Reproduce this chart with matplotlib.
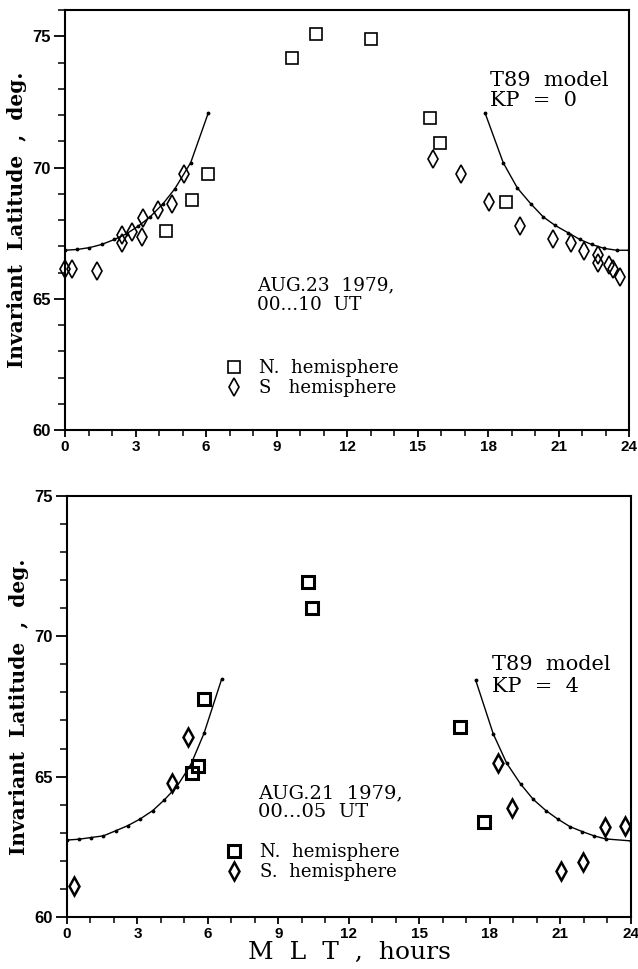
import matplotlib
matplotlib.use("Agg")
import matplotlib.pyplot as plt
from matplotlib.ticker import MultipleLocator

# ---- AUG.23 1979, KP = 0 ----
n23_mlt = [4.28, 5.42, 6.10, 9.65, 10.68, 13.00, 15.53, 15.96, 18.77]
n23_lat = [67.59, 68.76, 69.77, 74.19, 75.10, 74.91, 71.87, 70.95, 68.69]
s23_mlt = [0.00, 0.28, 1.38, 2.41, 2.41, 2.86, 3.29, 3.33, 3.97, 4.57, 5.06,
           15.67, 16.85, 18.06, 19.36, 20.78, 21.52, 22.10, 22.70, 22.70, 23.16, 23.30, 23.62]
s23_lat = [66.15, 66.15, 66.07, 67.42, 67.13, 67.55, 67.34, 68.06, 68.40, 68.60, 69.77,
           70.32, 69.77, 68.69, 67.78, 67.26, 67.11, 66.83, 66.66, 66.35, 66.28, 66.15, 65.83]
m0_left_mlt = [0.00, 0.52, 1.04, 1.56, 2.10, 2.62, 3.12, 3.62, 4.18, 4.68, 5.35, 6.10]
m0_left_lat = [66.85, 66.88, 66.95, 67.07, 67.26, 67.48, 67.77, 68.12, 68.63, 69.20, 70.19, 72.09]
m0_right_mlt = [17.87, 18.65, 19.25, 19.81, 20.35, 20.85, 21.42, 21.91, 22.41, 22.95, 23.48, 24.00]
m0_right_lat = [72.09, 70.18, 69.22, 68.63, 68.12, 67.80, 67.51, 67.26, 67.07, 66.92, 66.85, 66.85]

# ---- AUG.21 1979, KP = 4 ----
n21_mlt = [5.33, 5.56, 5.83, 10.27, 10.41, 16.72, 17.74]
n21_lat = [65.12, 65.38, 67.76, 71.95, 71.00, 66.78, 63.37]
s21_mlt = [0.30, 4.48, 5.14, 18.36, 18.92, 21.01, 21.94, 22.89, 23.74]
s21_lat = [61.10, 64.78, 66.40, 65.48, 63.89, 61.65, 61.95, 63.22, 63.25]
m4_left_mlt = [0.00, 0.51, 1.02, 1.55, 2.07, 2.58, 3.11, 3.65, 4.14, 4.67, 5.26, 5.83, 6.58]
m4_left_lat = [62.74, 62.77, 62.83, 62.89, 63.07, 63.25, 63.49, 63.79, 64.17, 64.64, 65.41, 66.54, 68.47]
m4_right_mlt = [17.39, 18.14, 18.71, 19.30, 19.84, 20.38, 20.88, 21.40, 21.93, 22.43, 22.92, 24.00]
m4_right_lat = [68.44, 66.52, 65.48, 64.74, 64.19, 63.79, 63.49, 63.22, 63.04, 62.89, 62.78, 62.71]

xticks = [0, 3, 6, 9, 12, 15, 18, 21, 24]
yticks = [60, 65, 70, 75]

SERIF = "DejaVu Serif"
TICKFONT = "Liberation Sans"

fig = plt.figure(figsize=(6.38, 9.69), dpi=100)
ax1 = fig.add_axes([0.1019, 0.5562, 0.884, 0.4334])
ax2 = fig.add_axes([0.1050, 0.0537, 0.884, 0.4345])


def style_axes(ax, ytop):
    ax.set_xlim(0, 24)
    ax.set_ylim(60, ytop)
    ax.set_xticks(xticks)
    ax.set_yticks(yticks)
    ax.xaxis.set_minor_locator(MultipleLocator(1))
    ax.yaxis.set_minor_locator(MultipleLocator(1))
    ax.tick_params(which="major", axis="x", direction="out", length=5, width=1.3, pad=2)
    ax.tick_params(which="minor", axis="x", direction="out", length=4, width=1.1)
    ax.tick_params(which="major", axis="y", direction="out", length=8, width=1.3, pad=2)
    ax.tick_params(which="minor", axis="y", direction="out", length=5, width=1.1)
    ax.tick_params(top=False, right=False, which="both")
    for lab in ax.get_xticklabels():
        lab.set_fontfamily(TICKFONT)
        lab.set_fontweight("bold")
        lab.set_fontsize(11)
    for lab in ax.get_yticklabels():
        lab.set_fontfamily(TICKFONT)
        lab.set_fontweight("bold")
        lab.set_fontsize(12)
    for sp in ax.spines.values():
        sp.set_linewidth(1.5)
    ax.set_ylabel("Invariant  Latitude  ,  deg.", family=SERIF, fontweight="bold",
                  fontsize=14.5, labelpad=4)


def draw_panel(ax, n_x, n_y, s_x, s_y, ml_x, ml_y, mr_x, mr_y, mew_sq, mew_di, sname):
    ax.plot(ml_x, ml_y, "-", color="black", lw=1.0, marker=".", ms=3.5)
    ax.plot(mr_x, mr_y, "-", color="black", lw=1.0, marker=".", ms=3.5)
    hn, = ax.plot(n_x, n_y, "s", ls="none", ms=8, mfc="none", mec="black", mew=mew_sq,
                  label="N.  hemisphere", clip_on=False)
    hs, = ax.plot(s_x, s_y, "d", ls="none", ms=9.2, mfc="none", mec="black", mew=mew_di,
                  label=sname, clip_on=False)
    return hn, hs


# top panel
style_axes(ax1, 76)
hn, hs = draw_panel(ax1, n23_mlt, n23_lat, s23_mlt, s23_lat,
                    m0_left_mlt, m0_left_lat, m0_right_mlt, m0_right_lat, 1.2, 1.2,
                    "S   hemisphere")
ax1.text(18.1, 73.3, "T89  model", family=SERIF, fontsize=15, va="center", ha="left")
ax1.text(18.1, 72.55, "KP  =  0", family=SERIF, fontsize=15, va="center", ha="left")
ax1.text(8.17, 65.52, "AUG.23  1979,", family=SERIF, fontsize=13.3, va="center", ha="left")
ax1.text(8.17, 64.76, "00...10  UT", family=SERIF, fontsize=13.3, va="center", ha="left")
ax1.legend(handles=[hn, hs], loc="center left", bbox_to_anchor=(0.27, 0.123),
           frameon=False, handlelength=1.0, handletextpad=0.9, labelspacing=0.1,
           borderaxespad=0, prop={"family": SERIF, "size": 13})

# bottom panel
style_axes(ax2, 75)
hn, hs = draw_panel(ax2, n21_mlt, n21_lat, s21_mlt, s21_lat,
                    m4_left_mlt, m4_left_lat, m4_right_mlt, m4_right_lat, 2.2, 1.8,
                    "S.  hemisphere")
ax2.text(18.07, 68.98, "T89  model", family=SERIF, fontsize=15, va="center", ha="left")
ax2.text(18.07, 68.2, "KP  =  4", family=SERIF, fontsize=15, va="center", ha="left")
ax2.text(8.14, 64.41, "AUG.21  1979,", family=SERIF, fontsize=14, va="center", ha="left")
ax2.text(8.14, 63.75, "00...05  UT", family=SERIF, fontsize=14, va="center", ha="left")
ax2.legend(handles=[hn, hs], loc="center left", bbox_to_anchor=(0.268, 0.13),
           frameon=False, handlelength=1.0, handletextpad=0.9, labelspacing=0.1,
           borderaxespad=0, prop={"family": SERIF, "size": 13})
ax2.set_xlabel("M  L  T  ,  hours", family=SERIF, fontsize=18, labelpad=0)

fig.savefig("out.png", dpi=100)
